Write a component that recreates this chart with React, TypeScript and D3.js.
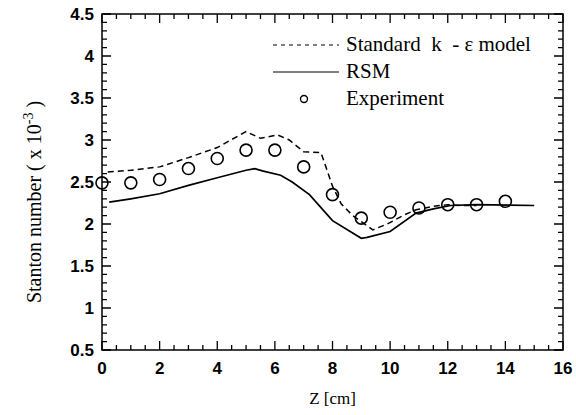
import React from "react";
import { scaleLinear, line, range } from "d3";

// experiment (circles)
const expZ = [0, 1, 2, 3, 4, 5, 6, 7, 8, 9, 10, 11, 12, 13, 14];
const expSt = [2.49, 2.49, 2.53, 2.66, 2.78, 2.88, 2.88, 2.68, 2.35, 2.07, 2.14, 2.19, 2.23, 2.23, 2.27];

// standard k-e model (dashed)
const keZ = [0.2, 1, 2, 3, 4, 5, 5.5, 6.1, 6.5, 7.0, 7.6, 8.0, 8.3, 8.7, 9.4, 9.9, 10.5, 10.9, 11.5, 12, 12.5, 13];
const keSt = [2.62, 2.64, 2.68, 2.79, 2.91, 3.1, 3.02, 3.06, 3.0, 2.86, 2.85, 2.45, 2.24, 2.1, 1.93, 2.0, 2.11, 2.17, 2.21, 2.23, 2.22, 2.22];

// RSM (solid)
const rsmZ = [0.25, 1, 2, 3, 4, 5, 5.3, 5.6, 6.2, 6.6, 7.2, 8, 9, 9.2, 10, 10.9, 11.5, 12.1, 13, 15];
const rsmSt = [2.26, 2.3, 2.36, 2.46, 2.55, 2.64, 2.66, 2.63, 2.58, 2.5, 2.35, 2.04, 1.83, 1.84, 1.91, 2.13, 2.18, 2.22, 2.23, 2.22];

const xTicks = [0, 2, 4, 6, 8, 10, 12, 14, 16];
const yTicks = [0.5, 1, 1.5, 2, 2.5, 3, 3.5, 4, 4.5];
const legendLabels = ["Standard  k  - \u03b5 model", "RSM", "Experiment"];

const width = 576;
const height = 415;
const margin = { top: 14, right: 13, bottom: 65, left: 102 };

const x = scaleLinear().domain([0, 16]).range([margin.left, width - margin.right]);
const y = scaleLinear().domain([0.5, 4.5]).range([height - margin.bottom, margin.top]);

const tickFont = "'Liberation Sans', Arial, sans-serif";
const serif = "'Liberation Serif', 'Times New Roman', serif";

const App = () => {
    const xl = x(0), xr = x(16), yb = y(0.5), yt = y(4.5);

    // inward ticks on all four sides as one path
    let ticks = "";
    range(0, 33).forEach((k) => {
        const px = x(k / 2);
        const len = k % 4 === 0 ? 9 : 5;
        ticks += `M${px},${yb}V${yb - len}M${px},${yt}V${yt + len}`;
    });
    range(5, 46).forEach((k) => {
        const py = y(k / 10);
        const len = k % 5 === 0 ? 9 : 5;
        ticks += `M${xl},${py}H${xl + len}M${xr},${py}H${xr - len}`;
    });

    const curve = line<number[]>().x((p) => x(p[0])).y((p) => y(p[1]));
    const keD = curve(keZ.map((z, i) => [z, keSt[i]]));
    const rsmD = curve(rsmZ.map((z, i) => [z, rsmSt[i]]));

    const lgX = 273, lgY = 45, lgStep = 27;

    return (
        <svg width={width} height={height}
            style={{ position: "absolute", left: 0, top: 0, background: "#fff" }}>
            <path d={ticks} fill="none" stroke="#000" strokeWidth={1.3} />
            <rect x={xl} y={yt} width={xr - xl} height={yb - yt}
                fill="none" stroke="#000" strokeWidth={1.5} />

            {xTicks.map((v) => (
                <text key={"x" + v} x={x(v)} y={yb + 24} textAnchor="middle"
                    style={{ fontFamily: tickFont, fontWeight: "bold", fontSize: 17 }}>{v}</text>
            ))}
            {yTicks.map((v) => (
                <text key={"y" + v} x={xl - 8} y={y(v) + 6} textAnchor="end"
                    style={{ fontFamily: tickFont, fontWeight: "bold", fontSize: 17 }}>{v}</text>
            ))}

            <text x={x(8)} y={404} textAnchor="middle"
                style={{ fontFamily: serif, fontSize: 17 }}>Z [cm]</text>
            <text transform="translate(41,202) rotate(-90)" textAnchor="middle"
                style={{ fontFamily: serif, fontSize: 20 }}>
                <tspan>Stanton number ( x 10</tspan>
                <tspan dy={-8} style={{ fontSize: 14 }}>-3</tspan>
                <tspan dy={8}> )</tspan>
            </text>

            <path d={keD} fill="none" stroke="#000" strokeWidth={1.5} strokeDasharray="6,4" />
            <path d={rsmD} fill="none" stroke="#000" strokeWidth={1.7} />
            {expZ.map((v, i) => (
                <circle key={"c" + v} cx={x(v)} cy={y(expSt[i])} r={6}
                    fill="none" stroke="#000" strokeWidth={1.6} />
            ))}

            {/* legend */}
            <line x1={lgX} x2={lgX + 66} y1={lgY} y2={lgY} stroke="#000" strokeWidth={1} strokeDasharray="4,4" />
            <line x1={lgX} x2={lgX + 66} y1={lgY + lgStep} y2={lgY + lgStep} stroke="#000" strokeWidth={1} />
            <circle cx={lgX + 31} cy={lgY + 2 * lgStep} r={3.5} fill="none" stroke="#000" strokeWidth={1.4} />
            {legendLabels.map((t, i) => (
                <text key={t} x={lgX + 73} y={lgY + 6 + i * lgStep} xmlSpace="preserve"
                    style={{ fontFamily: serif, fontSize: 21, whiteSpace: "pre" }}>{t}</text>
            ))}
        </svg>
    );
};

export default App;
